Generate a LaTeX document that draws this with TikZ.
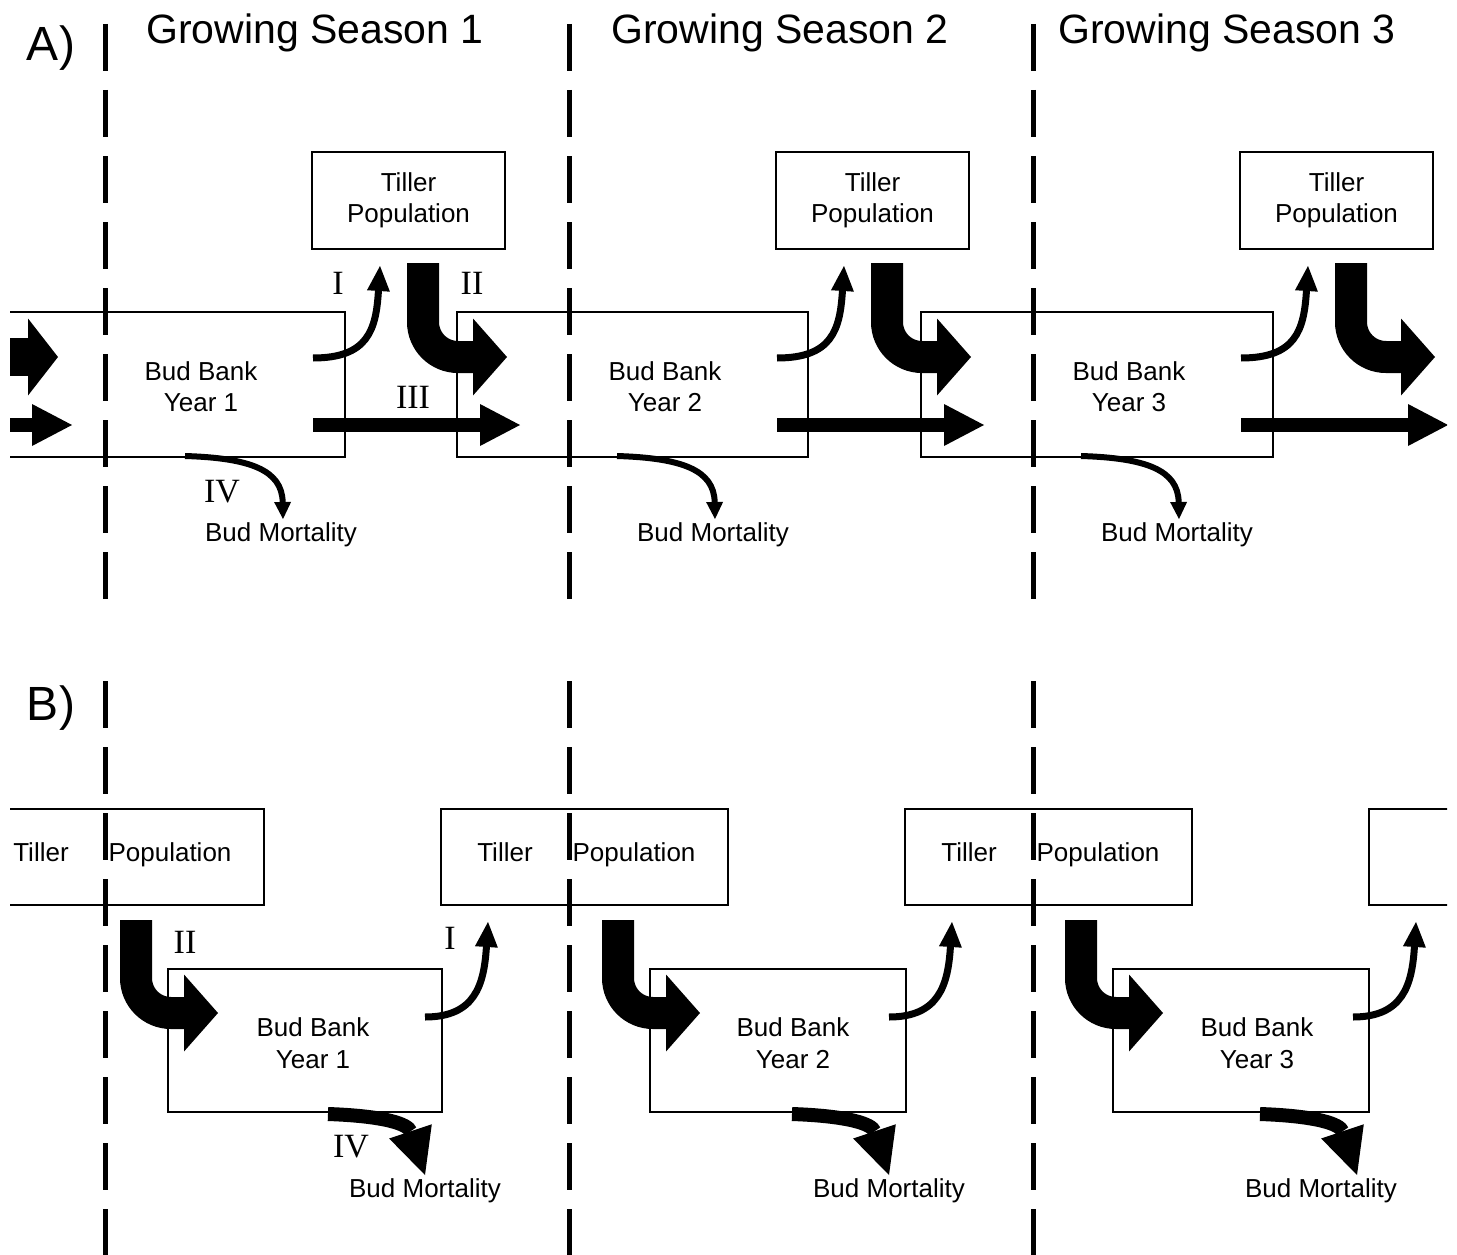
\documentclass[tikz,border=0pt]{standalone}
\usepackage{fontspec}
\setmainfont{Liberation Sans}
\newfontfamily\numeralfont{Liberation Serif}
\usetikzlibrary{arrows.meta}

\newlength{\du}
\setlength{\du}{1pt}
\newcommand{\boxfont}{\fontsize{26}{31.5}\selectfont}
\newcommand{\titlefont}{\fontsize{41}{49}\selectfont}
\newcommand{\panelfont}{\fontsize{48}{56}\selectfont}
\newcommand{\numfont}{\numeralfont\fontsize{34}{40}\selectfont}

% arrow tips in pt (1\du = 1pt)
\tikzset{
  boxline/.style={draw, line width=2.5\du, inner sep=0pt, align=center, font=\boxfont},
  boxtext/.style={inner sep=0pt, align=center, font=\boxfont},
  basetext/.style={inner sep=0pt, anchor=base, font=\boxfont},
  numlabel/.style={inner sep=0pt, font=\numfont},
  seasonline/.style={line width=5\du, dash pattern=on 47\du off 19\du},
  uparrow/.style={line width=7\du, -{Triangle[length=25pt, width=23pt, line width=0pt]}},
  downarrow/.style={line width=6\du, -{Triangle[length=17pt, width=17pt, line width=0pt]}},
  fatdown/.style={line width=14\du, -{Triangle[length=46pt, width=45pt, line width=0pt]}},
  bentarrow/.style={line width=32\du, rounded corners=35\du, -{Triangle[length=34pt, width=77pt, line width=0pt]}},
  flatarrow/.style={line width=14\du, -{Triangle[length=40pt, width=42pt, line width=0pt]}},
  stubarrow/.style={line width=38\du, -{Triangle[length=30pt, width=77pt, line width=0pt]}}
}

\begin{document}
\begin{tikzpicture}
\pgftransformyscale{-1.000000}
\useasboundingbox (0\du,0\du) rectangle (1457\du,1255\du);

\node[anchor=base, inner sep=0pt, font=\panelfont] (panelA) at (51\du,60\du) {A)};
\node[anchor=base, inner sep=0pt, font=\panelfont] (panelB) at (51\du,720\du) {B)};
\node[anchor=base, inner sep=0pt, font=\titlefont] (season1) at (315\du,44\du) {Growing Season 1};
\node[anchor=base, inner sep=0pt, font=\titlefont] (season2) at (780\du,44\du) {Growing Season 2};
\node[anchor=base, inner sep=0pt, font=\titlefont] (season3) at (1227\du,44\du) {Growing Season 3};

\begin{scope}
\clip (10\du,0\du) rectangle (1447\du,1255\du);

% panel A
\node[boxline, minimum width=193\du, minimum height=97\du] (tpA1) at (408.5\du,200.5\du) {Tiller\\Population};
\node[boxline, minimum width=193\du, minimum height=97\du] (tpA2) at (872.5\du,200.5\du) {Tiller\\Population};
\node[boxline, minimum width=193\du, minimum height=97\du] (tpA3) at (1336.5\du,200.5\du) {Tiller\\Population};
\node[boxline, minimum width=351\du, minimum height=145\du] (bbA1) at (169.5\du,384.5\du) {};
\node[boxline, minimum width=351\du, minimum height=145\du] (bbA2) at (632.5\du,384.5\du) {};
\node[boxline, minimum width=352\du, minimum height=145\du] (bbA3) at (1097\du,384.5\du) {};
\node[boxtext] (bbA1txt) at (201\du,386.5\du) {Bud Bank\\Year 1};
\node[boxtext] (bbA2txt) at (665\du,386.5\du) {Bud Bank\\Year 2};
\node[boxtext] (bbA3txt) at (1129\du,386.5\du) {Bud Bank\\Year 3};

\coordinate (inA1s) at (0\du,357\du);
\coordinate (inA1e) at (58\du,357\du);
\coordinate (inA2s) at (0\du,425\du);
\coordinate (inA2e) at (72\du,425\du);
\draw[stubarrow] (inA1s) -- (inA1e);
\draw[flatarrow] (inA2s) -- (inA2e);

\coordinate (IA1s) at (313\du,358\du);
\coordinate (IA1e) at (380\du,266\du);
\coordinate (IA2s) at (777\du,358\du);
\coordinate (IA2e) at (844\du,266\du);
\coordinate (IA3s) at (1241\du,358\du);
\coordinate (IA3e) at (1308\du,266\du);
\draw[uparrow] (IA1s) .. controls +(55\du,0\du) and +(-4\du,64\du) .. (IA1e);
\draw[uparrow] (IA2s) .. controls +(55\du,0\du) and +(-4\du,64\du) .. (IA2e);
\draw[uparrow] (IA3s) .. controls +(55\du,0\du) and +(-4\du,64\du) .. (IA3e);

\coordinate (IIA1s) at (423\du,263\du);
\coordinate (IIA1e) at (507\du,357\du);
\coordinate (IIA2s) at (887\du,263\du);
\coordinate (IIA2e) at (971\du,357\du);
\coordinate (IIA3s) at (1351\du,263\du);
\coordinate (IIA3e) at (1435\du,357\du);
\draw[bentarrow] (IIA1s) |- (IIA1e);
\draw[bentarrow] (IIA2s) |- (IIA2e);
\draw[bentarrow] (IIA3s) |- (IIA3e);

\coordinate (IIIA1s) at (313\du,425\du);
\coordinate (IIIA1e) at (520\du,425\du);
\coordinate (IIIA2s) at (777\du,425\du);
\coordinate (IIIA2e) at (984\du,425\du);
\coordinate (IIIA3s) at (1241\du,425\du);
\coordinate (IIIA3e) at (1448\du,425\du);
\draw[flatarrow] (IIIA1s) -- (IIIA1e);
\draw[flatarrow] (IIIA2s) -- (IIIA2e);
\draw[flatarrow] (IIIA3s) -- (IIIA3e);

\coordinate (IVA1s) at (185\du,456\du);
\coordinate (IVA1e) at (283\du,519\du);
\coordinate (IVA2s) at (617\du,456\du);
\coordinate (IVA2e) at (715\du,519\du);
\coordinate (IVA3s) at (1081\du,456\du);
\coordinate (IVA3e) at (1179\du,519\du);
\draw[downarrow] (IVA1s) .. controls +(65\du,2\du) and +(-1\du,-49\du) .. (IVA1e);
\draw[downarrow] (IVA2s) .. controls +(65\du,2\du) and +(-1\du,-49\du) .. (IVA2e);
\draw[downarrow] (IVA3s) .. controls +(65\du,2\du) and +(-1\du,-49\du) .. (IVA3e);

\node[numlabel] (lblIA) at (338\du,283\du) {I};
\node[numlabel] (lblIIA) at (472\du,283\du) {II};
\node[numlabel] (lblIIIA) at (413\du,397\du) {III};
\node[numlabel] (lblIVA) at (222\du,492\du) {IV};
\node[basetext] (mortA1) at (281\du,541\du) {Bud Mortality};
\node[basetext] (mortA2) at (713\du,541\du) {Bud Mortality};
\node[basetext] (mortA3) at (1177\du,541\du) {Bud Mortality};

% panel B
\node[boxline, minimum width=287\du, minimum height=96\du] (tpB1) at (120.5\du,857\du) {};
\node[boxline, minimum width=287\du, minimum height=96\du] (tpB2) at (584.5\du,857\du) {};
\node[boxline, minimum width=287\du, minimum height=96\du] (tpB3) at (1048.5\du,857\du) {};
\node[boxline, minimum width=287\du, minimum height=96\du] (tpB4) at (1512.5\du,857\du) {};
\node[basetext] (tpB1a) at (41\du,861\du) {Tiller};
\node[basetext] (tpB1b) at (170\du,861\du) {Population};
\node[basetext] (tpB2a) at (505\du,861\du) {Tiller};
\node[basetext] (tpB2b) at (634\du,861\du) {Population};
\node[basetext] (tpB3a) at (969\du,861\du) {Tiller};
\node[basetext] (tpB3b) at (1098\du,861\du) {Population};

\node[boxline, minimum width=274\du, minimum height=143\du] (bbB1) at (305\du,1040.5\du) {};
\node[boxline, minimum width=256\du, minimum height=143\du] (bbB2) at (778\du,1040.5\du) {};
\node[boxline, minimum width=256\du, minimum height=143\du] (bbB3) at (1241\du,1040.5\du) {};
\node[boxtext] (bbB1txt) at (313\du,1043.4\du) {Bud Bank\\Year 1};
\node[boxtext] (bbB2txt) at (793\du,1043.4\du) {Bud Bank\\Year 2};
\node[boxtext] (bbB3txt) at (1257\du,1043.4\du) {Bud Bank\\Year 3};

\coordinate (IIB1s) at (136\du,920\du);
\coordinate (IIB1e) at (218\du,1013\du);
\coordinate (IIB2s) at (618\du,920\du);
\coordinate (IIB2e) at (700\du,1013\du);
\coordinate (IIB3s) at (1081\du,920\du);
\coordinate (IIB3e) at (1163\du,1013\du);
\draw[bentarrow] (IIB1s) |- (IIB1e);
\draw[bentarrow] (IIB2s) |- (IIB2e);
\draw[bentarrow] (IIB3s) |- (IIB3e);

\coordinate (IB1s) at (425\du,1017\du);
\coordinate (IB1e) at (488\du,922\du);
\coordinate (IB2s) at (889\du,1017\du);
\coordinate (IB2e) at (952\du,922\du);
\coordinate (IB3s) at (1353\du,1017\du);
\coordinate (IB3e) at (1416\du,922\du);
\draw[uparrow] (IB1s) .. controls +(50\du,0\du) and +(-4\du,63\du) .. (IB1e);
\draw[uparrow] (IB2s) .. controls +(50\du,0\du) and +(-4\du,63\du) .. (IB2e);
\draw[uparrow] (IB3s) .. controls +(50\du,0\du) and +(-4\du,63\du) .. (IB3e);

\coordinate (IVB1s) at (328\du,1114\du);
\coordinate (IVB1e) at (425\du,1175\du);
\coordinate (IVB2s) at (792\du,1114\du);
\coordinate (IVB2e) at (889\du,1175\du);
\coordinate (IVB3s) at (1260\du,1114\du);
\coordinate (IVB3e) at (1357\du,1175\du);
\draw[fatdown] (IVB1s) .. controls +(57\du,2\du) and +(-17\du,-51\du) .. (IVB1e);
\draw[fatdown] (IVB2s) .. controls +(57\du,2\du) and +(-17\du,-51\du) .. (IVB2e);
\draw[fatdown] (IVB3s) .. controls +(57\du,2\du) and +(-17\du,-51\du) .. (IVB3e);

\node[numlabel] (lblIIB) at (185\du,942\du) {II};
\node[numlabel] (lblIB) at (450\du,938\du) {I};
\node[numlabel] (lblIVB) at (351\du,1147\du) {IV};
\node[basetext] (mortB1) at (425\du,1197\du) {Bud Mortality};
\node[basetext] (mortB2) at (889\du,1197\du) {Bud Mortality};
\node[basetext] (mortB3) at (1321\du,1197\du) {Bud Mortality};

% season boundaries
\draw[seasonline] (105\du,24\du) -- (105\du,600\du);
\draw[seasonline] (569\du,24\du) -- (569\du,600\du);
\draw[seasonline] (1033\du,24\du) -- (1033\du,600\du);
\draw[seasonline] (105\du,681\du) -- (105\du,1255\du);
\draw[seasonline] (569\du,681\du) -- (569\du,1255\du);
\draw[seasonline] (1033\du,681\du) -- (1033\du,1255\du);
\end{scope}
\end{tikzpicture}
\end{document}
